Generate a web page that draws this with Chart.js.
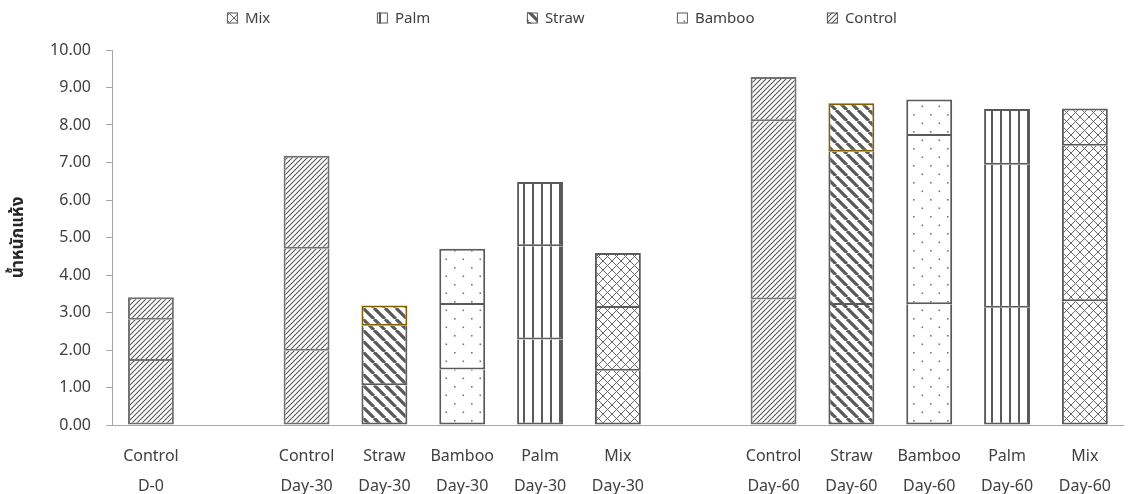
<!DOCTYPE html>
<html lang="th">
<head>
<meta charset="UTF-8">
<title>Dry weight</title>
<script src="https://cdn.jsdelivr.net/npm/chart.js@4.4.1/dist/chart.umd.min.js"></script>
<style>
  html, body { margin: 0; padding: 0; background: #fff; }
  .chart-wrap { width: 1128px; height: 494px; }
</style>
</head>
<body>
<div class="chart-wrap"><canvas id="chart"></canvas></div>
<script>
// categories ('' = empty slot between groups)
const categories = [
  ['Control', 'D-0'], '',
  ['Control', 'Day-30'], ['Straw', 'Day-30'], ['Bamboo', 'Day-30'], ['Palm', 'Day-30'], ['Mix', 'Day-30'], '',
  ['Control', 'Day-60'], ['Straw', 'Day-60'], ['Bamboo', 'Day-60'], ['Palm', 'Day-60'], ['Mix', 'Day-60']
];
const treatments = ['Control', null, 'Control', 'Straw', 'Bamboo', 'Palm', 'Mix', null, 'Control', 'Straw', 'Bamboo', 'Palm', 'Mix'];

// stacked segments, bottom to top
const layer1 = [1.71, null, 1.98, 1.06, 1.48, 2.28, 1.45, null, 3.35, 3.20, 3.22, 3.13, 3.30];
const layer2 = [1.10, null, 2.72, 1.59, 1.72, 2.49, 1.67, null, 4.75, 4.09, 4.49, 3.81, 4.15];
const layer3 = [0.60, null, 2.48, 0.54, 1.50, 1.71, 1.47, null, 1.18, 1.29, 0.97, 1.49, 0.99];

const legendNames = ['Mix', 'Palm', 'Straw', 'Bamboo', 'Control'];
const yMin = 0, yMax = 10, yStep = 1;
const yTitle = 'น้ำหนักแห้ง';

const FONT = '"Noto Sans", "Noto Sans Thai", "DejaVu Sans", sans-serif';
const INK = '#595959';
const TEXT = '#404040';

// hatch fills
function makePattern(kind) {
  const c = document.createElement('canvas');
  const g = c.getContext('2d');
  let s = 8;
  if (kind === 'Control') s = 5;
  if (kind === 'Straw') s = 11;
  if (kind === 'Bamboo') s = 17;
  if (kind === 'Palm') s = 9;
  if (kind === 'Mix') s = 9;
  c.width = s; c.height = s;
  g.fillStyle = '#fff';
  g.fillRect(0, 0, s, s);
  g.strokeStyle = INK;
  g.fillStyle = INK;
  if (kind === 'Control') {
    g.lineWidth = 1.1;
    g.beginPath();
    g.moveTo(0, s); g.lineTo(s, 0);
    g.moveTo(-1, 1); g.lineTo(1, -1);
    g.moveTo(s - 1, s + 1); g.lineTo(s + 1, s - 1);
    g.stroke();
  } else if (kind === 'Straw') {
    g.lineWidth = 3.2;
    g.beginPath();
    g.moveTo(0, 0); g.lineTo(s, s);
    g.moveTo(s, 0); g.lineTo(2 * s, s);
    g.moveTo(-s, 0); g.lineTo(0, s);
    g.stroke();
  } else if (kind === 'Bamboo') {
    g.fillStyle = '#777';
    g.fillRect(3.5, 3.5, 1.6, 1.6);
    g.fillRect(12, 12, 1.6, 1.6);
  } else if (kind === 'Palm') {
    g.fillRect(1, 0, 2, s);
  } else if (kind === 'Mix') {
    g.strokeStyle = '#666';
    g.lineWidth = 1;
    g.beginPath();
    g.moveTo(0, 0); g.lineTo(s, s);
    g.moveTo(0, s); g.lineTo(s, 0);
    g.stroke();
  }
  return g.createPattern(c, 'repeat');
}

const patterns = {};
legendNames.forEach(n => { patterns[n] = makePattern(n); });

const fills = treatments.map(t => t ? patterns[t] : 'rgba(0,0,0,0)');
const borders = treatments.map(t => t === 'Control' ? '#707070' : '#5a5a5a');
const topBorders = treatments.map(t => t === 'Straw' ? '#806000' : (t === 'Control' ? '#707070' : '#5a5a5a'));

function layerSet(label, data, borderColor, borderWidth) {
  return {
    label: label,
    data: data,
    backgroundColor: fills,
    borderColor: borderColor,
    borderWidth: borderWidth,
    borderSkipped: false,
    categoryPercentage: 1,
    barPercentage: 0.59
  };
}

// legend in one row of equal cells above the plot
const patternLegend = {
  id: 'patternLegend',
  afterDraw(chart) {
    const ctx = chart.ctx;
    const area = chart.chartArea;
    ctx.save();
    ctx.font = '15px ' + FONT;
    const box = 11, textGap = 7, cell = 150;
    let x = (area.left + area.right) / 2 - 2.5 * cell - 16;
    const y = 18;
    legendNames.forEach(n => {
      ctx.fillStyle = patterns[n];
      ctx.fillRect(x, y - box / 2, box, box);
      ctx.strokeStyle = INK;
      ctx.lineWidth = 1;
      ctx.strokeRect(x + 0.5, y - box / 2 + 0.5, box - 1, box - 1);
      ctx.fillStyle = TEXT;
      ctx.textBaseline = 'middle';
      ctx.textAlign = 'left';
      ctx.fillText(n, x + box + textGap, y + 1);
      x += cell;
    });
    ctx.restore();
  }
};

new Chart(document.getElementById('chart'), {
  type: 'bar',
  data: {
    labels: categories,
    datasets: [
      layerSet('Layer 1', layer1, borders, { left: 2, right: 2, bottom: 2, top: 0 }),
      layerSet('Layer 2', layer2, borders, { left: 2, right: 2, bottom: 2, top: 0 }),
      layerSet('Layer 3', layer3, topBorders, { left: 2, right: 2, bottom: 2, top: 2 })
    ]
  },
  options: {
    responsive: true,
    maintainAspectRatio: false,
    animation: false,
    layout: { padding: { top: 50, left: 0, right: 0, bottom: 0 } },
    plugins: {
      legend: { display: false },
      tooltip: { enabled: false }
    },
    scales: {
      x: {
        stacked: true,
        grid: { display: false, drawTicks: false },
        border: { display: true, color: '#a6a6a6', width: 1 },
        ticks: {
          color: TEXT,
          font: { family: FONT, size: 16, lineHeight: 1.85 },
          padding: 17,
          maxRotation: 0,
          autoSkip: false
        },
        afterFit: scale => { scale.height = 69; }
      },
      y: {
        stacked: true,
        min: yMin,
        max: yMax,
        grid: { drawOnChartArea: false, drawTicks: true, tickLength: 6, color: '#a6a6a6' },
        border: { display: true, color: '#a6a6a6', width: 1 },
        ticks: {
          stepSize: yStep,
          color: TEXT,
          font: { family: FONT, size: 16 },
          padding: 15,
          callback: v => Number(v).toFixed(2)
        },
        title: {
          display: true,
          text: yTitle,
          color: '#262626',
          font: { family: FONT, size: 17, weight: 'bold' },
          padding: { top: 8, bottom: 10 }
        },
        afterFit: scale => { scale.width = 112; }
      }
    }
  },
  plugins: [patternLegend]
});
</script>
</body>
</html>
